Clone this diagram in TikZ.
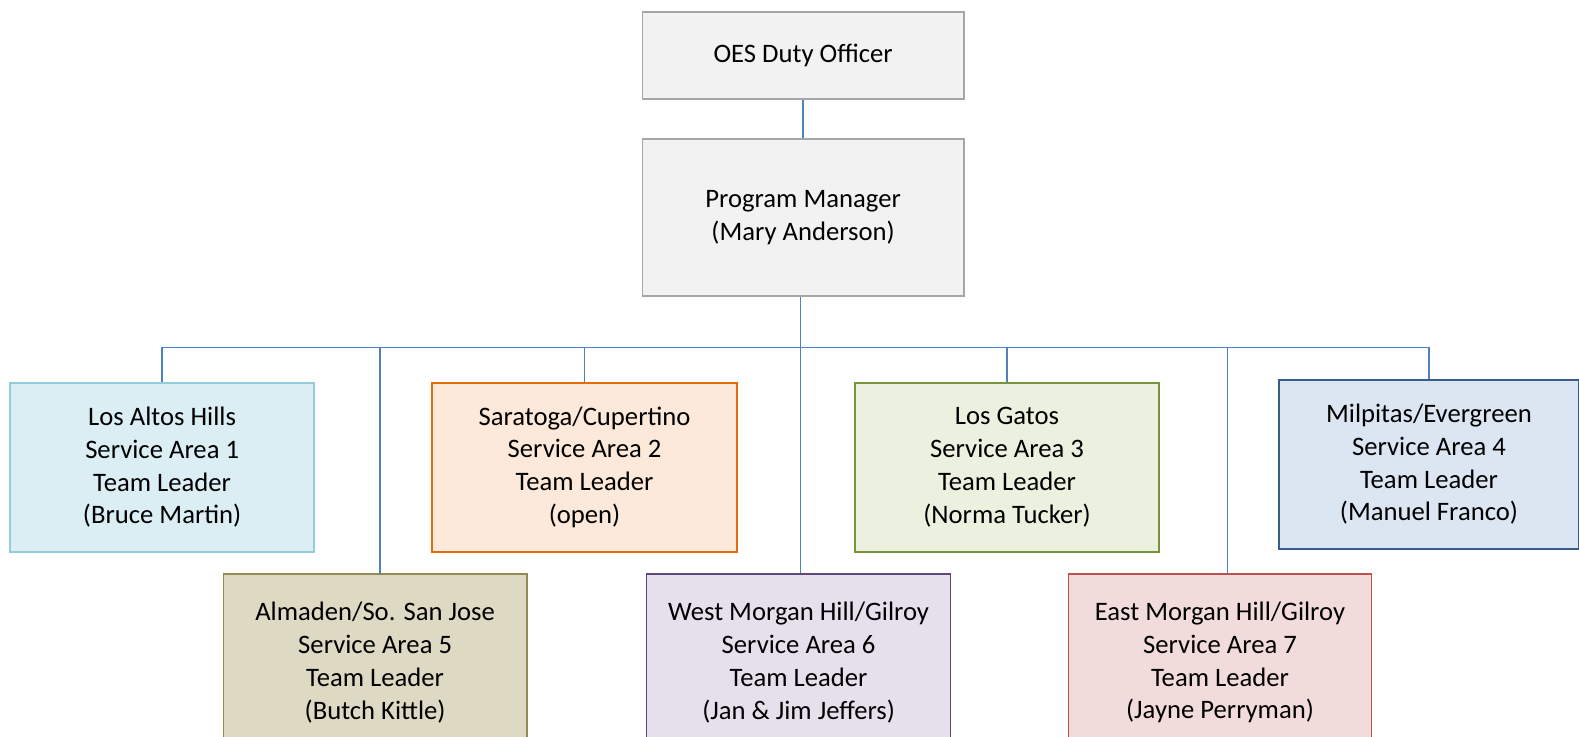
\documentclass[tikz,border=0pt]{standalone}
\usepackage{fontspec}
\setmainfont{Carlito}
\definecolor{conn}{HTML}{4F81BD}
\definecolor{grayfill}{HTML}{F2F2F2}\definecolor{graydraw}{HTML}{A6A6A6}
\definecolor{lahfill}{HTML}{DAEEF3}\definecolor{lahdraw}{HTML}{93CDDD}
\definecolor{sarfill}{HTML}{FDE9D9}\definecolor{sardraw}{HTML}{E46C0A}
\definecolor{lgfill}{HTML}{EBF1DE}\definecolor{lgdraw}{HTML}{77933C}
\definecolor{milfill}{HTML}{DCE6F2}\definecolor{mildraw}{HTML}{385D8A}
\definecolor{almfill}{HTML}{DDD9C3}\definecolor{almdraw}{HTML}{948A54}
\definecolor{wmhfill}{HTML}{E5E0EC}\definecolor{wmhdraw}{HTML}{5F497A}
\definecolor{emhfill}{HTML}{F2DCDB}\definecolor{emhdraw}{HTML}{C0504D}
\tikzset{
  orgbox/.style={rectangle, line width=1.3pt, inner sep=0pt, align=center,
    font=\fontsize{20}{24.6}\selectfont, minimum width=#1*0.7553pt},
  conline/.style={draw=conn, line width=1.3pt},
}
\begin{document}
\begin{tikzpicture}[x={(0.7553pt,0)}, y={(0,-0.7553pt)}]
\useasboundingbox (0,0) rectangle (1568,731);
\clip (0,0) rectangle (1568,731);
\node[orgbox=319, minimum height=86*0.7553pt, fill=grayfill, draw=graydraw] (oes) at (797.5,55) {OES Duty Officer};
\node[orgbox=319, minimum height=156*0.7553pt, fill=grayfill, draw=graydraw] (pm) at (797.5,216) {Program Manager\\(Mary Anderson)};
\node[orgbox=302, minimum height=168*0.7553pt, fill=lahfill, draw=lahdraw] (lah) at (161,464) {Los Altos Hills\\Service Area 1\\Team Leader\\(Bruce Martin)};
\node[orgbox=303, minimum height=168*0.7553pt, fill=sarfill, draw=sardraw] (sar) at (580.5,464) {Saratoga/Cupertino\\Service Area 2\\Team Leader\\(open)};
\node[orgbox=302, minimum height=168*0.7553pt, fill=lgfill, draw=lgdraw] (lg) at (1000,464) {Los Gatos\\Service Area 3\\Team Leader\\(Norma Tucker)};
\node[orgbox=298, minimum height=168*0.7553pt, fill=milfill, draw=mildraw] (mil) at (1419,461) {Milpitas/Evergreen\\Service Area 4\\Team Leader\\(Manuel Franco)};
\node[orgbox=301, minimum height=176*0.7553pt, fill=almfill, draw=almdraw] (alm) at (372.5,658) {Almaden/So. San Jose\\Service Area 5\\Team Leader\\(Butch Kittle)};
\node[orgbox=302, minimum height=176*0.7553pt, fill=wmhfill, draw=wmhdraw] (wmh) at (793,658) {West Morgan Hill/Gilroy\\Service Area 6\\Team Leader\\(Jan \& Jim Jeffers)};
\node[orgbox=301, minimum height=176*0.7553pt, fill=emhfill, draw=emhdraw] (emh) at (1211.5,658) {East Morgan Hill/Gilroy\\Service Area 7\\Team Leader\\(Jayne Perryman)};
\coordinate (bus) at (795,345);
\coordinate (almtop) at (377,570);
\coordinate (emhtop) at (1219,570);
\draw[conline] (oes.south) -- (pm.north);
\draw[conline] (pm.south -| bus) -- (bus |- wmh.north);
\draw[conline] (bus -| lah.north) -- (bus -| mil.north);
\draw[conline] (bus -| lah.north) -- (lah.north);
\draw[conline] (bus -| sar.north) -- (sar.north);
\draw[conline] (bus -| lg.north) -- (lg.north);
\draw[conline] (bus -| mil.north) -- (mil.north);
\draw[conline] (bus -| almtop) -- (almtop);
\draw[conline] (bus -| emhtop) -- (emhtop);
\end{tikzpicture}
\end{document}
